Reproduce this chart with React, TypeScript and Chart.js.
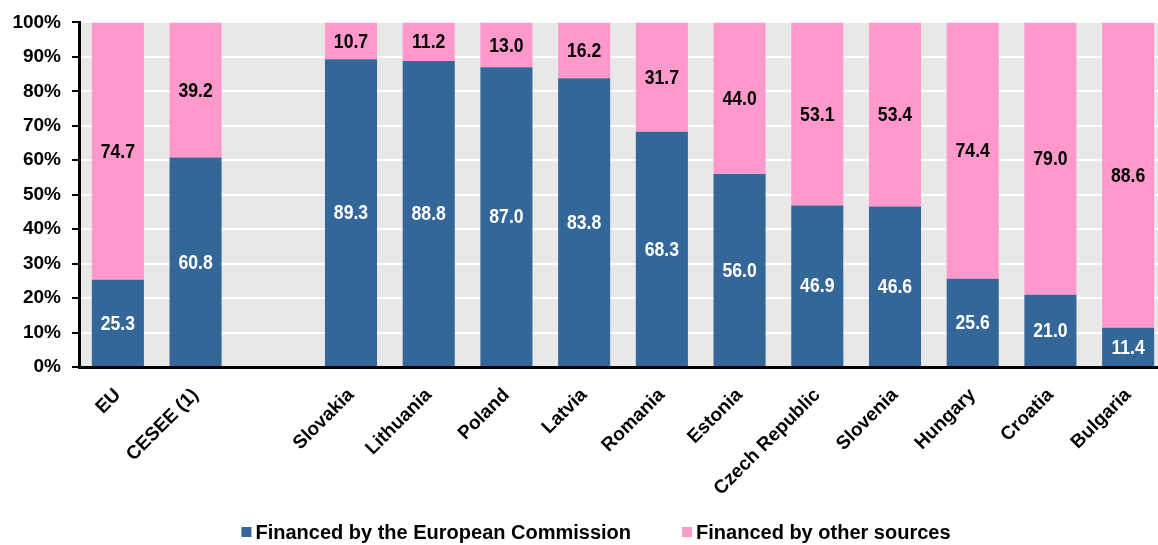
import React, { useEffect, useRef } from 'react';
import { Chart, registerables } from 'chart.js';

Chart.register(...registerables);

const categories = ['EU', 'CESEE (1)', '', 'Slovakia', 'Lithuania', 'Poland', 'Latvia', 'Romania', 'Estonia', 'Czech Republic', 'Slovenia', 'Hungary', 'Croatia', 'Bulgaria'];
const financedByEC: (number | null)[] = [25.3, 60.8, null, 89.3, 88.8, 87.0, 83.8, 68.3, 56.0, 46.9, 46.6, 25.6, 21.0, 11.4];
const financedByOther: (number | null)[] = [74.7, 39.2, null, 10.7, 11.2, 13.0, 16.2, 31.7, 44.0, 53.1, 53.4, 74.4, 79.0, 88.6];
const seriesNames = ['Financed by the European Commission', 'Financed by other sources'];

const FONT = "'Liberation Sans', Arial, sans-serif";
const BLUE = '#336699';
const PINK = '#ff99cc';

const bgPlugin = {
  id: 'plotBg',
  beforeDraw(chart: any) {
    const { ctx, chartArea } = chart;
    ctx.save();
    ctx.fillStyle = '#e8e8e8';
    ctx.fillRect(chartArea.left, chartArea.top, chartArea.right - chartArea.left, chartArea.bottom - chartArea.top);
    ctx.restore();
  },
};

const valueLabels = {
  id: 'valueLabels',
  afterDatasetsDraw(chart: any) {
    const ctx = chart.ctx;
    chart.data.datasets.forEach((ds: any, di: number) => {
      const meta = chart.getDatasetMeta(di);
      meta.data.forEach((el: any, i: number) => {
        const v = ds.data[i];
        if (v == null) return;
        const p = el.getProps(['x', 'y', 'base'], true);
        const cy = (p.y + p.base) / 2;
        ctx.save();
        ctx.translate(p.x, cy);
        ctx.scale(0.84, 1);
        ctx.font = `bold 21px ${FONT}`;
        ctx.textAlign = 'center';
        ctx.textBaseline = 'middle';
        ctx.fillStyle = di === 0 ? '#ffffff' : '#000000';
        ctx.fillText(Number(v).toFixed(1), 0, 1);
        ctx.restore();
      });
    });
  },
};

const customLegend = {
  id: 'customLegend',
  afterDraw(chart: any) {
    const ctx = chart.ctx;
    ctx.save();
    ctx.font = `bold 20px ${FONT}`;
    const box = 10;
    const gapBoxText = 4;
    const gapItems = 51;
    const items = chart.data.datasets.map((ds: any) => ({
      label: ds.label,
      color: ds.backgroundColor,
      w: ctx.measureText(ds.label).width,
    }));
    let total = 0;
    items.forEach((it: any, i: number) => {
      total += box + gapBoxText + it.w + (i > 0 ? gapItems : 0);
    });
    const centerX = 596;
    const cy = 532;
    let x = centerX - total / 2;
    items.forEach((it: any) => {
      ctx.fillStyle = it.color;
      ctx.fillRect(x, cy - box / 2, box, box);
      x += box + gapBoxText;
      ctx.fillStyle = '#000';
      ctx.textAlign = 'left';
      ctx.textBaseline = 'middle';
      ctx.fillText(it.label, x, cy + 1);
      x += it.w + gapItems;
    });
    ctx.restore();
  },
};

export default function App() {
  const ref = useRef<HTMLCanvasElement | null>(null);
  useEffect(() => {
    if (!ref.current) return;
    const chart = new Chart(ref.current, {
      type: 'bar',
      data: {
        labels: categories,
        datasets: [
          {
            label: seriesNames[0],
            data: financedByEC,
            backgroundColor: BLUE,
            borderWidth: 0,
            categoryPercentage: 1,
            barPercentage: 0.67,
          },
          {
            label: seriesNames[1],
            data: financedByOther,
            backgroundColor: PINK,
            borderWidth: 0,
            categoryPercentage: 1,
            barPercentage: 0.67,
          },
        ],
      },
      options: {
        responsive: false,
        animation: false,
        devicePixelRatio: 1,
        layout: { padding: { left: 0, top: 21, right: 0, bottom: 0 } },
        plugins: {
          legend: { display: false },
          tooltip: { enabled: false },
        },
        scales: {
          x: {
            stacked: true,
            grid: { display: false, drawTicks: false },
            border: { display: true, color: '#000', width: 3 },
            ticks: {
              autoSkip: false,
              maxRotation: 45,
              minRotation: 45,
              padding: 17,
              color: '#000',
              font: { family: FONT, size: 19, weight: 'bold' },
            },
            afterFit(scale: any) {
              scale.height = 178;
            },
          },
          y: {
            stacked: true,
            min: 0,
            max: 100,
            ticks: {
              stepSize: 10,
              padding: 11,
              color: '#000',
              font: { family: FONT, size: 19, weight: 'bold' },
              callback: (v: any) => `${v}%`,
            },
            grid: {
              color: '#ffffff',
              lineWidth: 2,
              drawTicks: true,
              tickLength: 7,
              tickColor: '#000',
              tickWidth: 2,
            },
            border: { display: true, color: '#000', width: 3 },
            afterFit(scale: any) {
              scale.width = 79;
            },
          },
        },
      },
      plugins: [bgPlugin, valueLabels, customLegend],
    });
    return () => chart.destroy();
  }, []);

  return (
    <div style={{ position: 'fixed', left: 0, top: 0, width: 1158, height: 545, overflow: 'hidden', background: '#fff' }}>
      <canvas ref={ref} width={1167} height={545} style={{ display: 'block', width: 1167, height: 545 }} />
    </div>
  );
}
